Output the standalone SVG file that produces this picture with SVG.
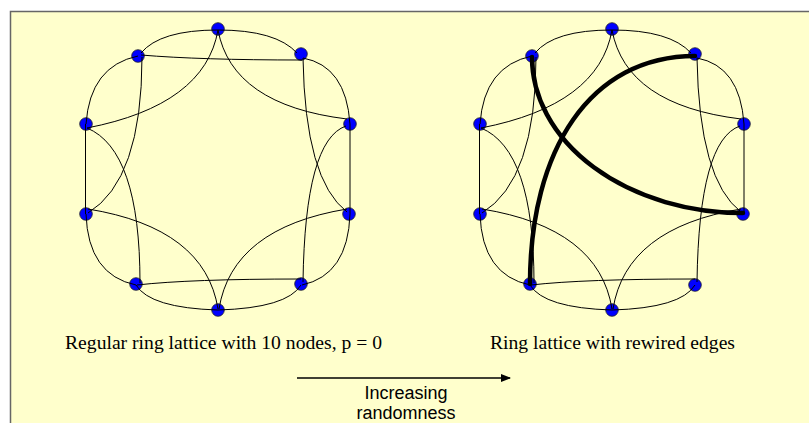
<svg xmlns="http://www.w3.org/2000/svg" width="809" height="423" viewBox="0 0 809 423">
<style>
.bg{fill:#FFFFCC;stroke:#666666;stroke-width:1.5}
.node{fill:#0000FF;stroke:#222222;stroke-width:0.8}
.e{fill:none;stroke:#000000;stroke-width:1}
.thick{fill:none;stroke:#000000;stroke-width:4.5;stroke-linecap:round}
.serif{font-family:"Liberation Serif","Times New Roman",serif;font-size:18px;fill:#000000}
.sans{font-family:"Liberation Sans",Arial,sans-serif;font-size:18px;fill:#000000;text-anchor:middle}
</style>
<defs>
<marker id="ah" markerWidth="10" markerHeight="8" refX="9" refY="4" orient="auto" markerUnits="userSpaceOnUse">
<path d="M0,0 L10,4 L0,8 Z" fill="#000000"/>
</marker>
</defs>
<rect x="10.5" y="11.5" width="810" height="420" class="bg"/>

<g id="nodes-left">
<g id="L-T"><circle class="node" cx="218" cy="29" r="6.3"/></g>
<g id="L-TR"><circle class="node" cx="301" cy="54" r="6.3"/></g>
<g id="L-RU"><circle class="node" cx="350" cy="124" r="6.3"/></g>
<g id="L-RL"><circle class="node" cx="349" cy="214" r="6.3"/></g>
<g id="L-BR"><circle class="node" cx="301" cy="284" r="6.3"/></g>
<g id="L-B"><circle class="node" cx="218" cy="310" r="6.3"/></g>
<g id="L-BL"><circle class="node" cx="136" cy="284" r="6.3"/></g>
<g id="L-LL"><circle class="node" cx="86" cy="214" r="6.3"/></g>
<g id="L-LU"><circle class="node" cx="86" cy="124" r="6.3"/></g>
<g id="L-TL"><circle class="node" cx="138" cy="56" r="6.3"/></g>
</g>

<g id="nodes-right" transform="translate(394,0)">
<g id="R-T"><circle class="node" cx="218" cy="29" r="6.3"/></g>
<g id="R-TR"><circle class="node" cx="301" cy="54" r="6.3"/></g>
<g id="R-RU"><circle class="node" cx="350" cy="124" r="6.3"/></g>
<g id="R-RL"><circle class="node" cx="349" cy="214" r="6.3"/></g>
<g id="R-BR"><circle class="node" cx="301" cy="285" r="6.3"/></g>
<g id="R-B"><circle class="node" cx="218" cy="310" r="6.3"/></g>
<g id="R-BL"><circle class="node" cx="136" cy="284" r="6.3"/></g>
<g id="R-LL"><circle class="node" cx="86" cy="214" r="6.3"/></g>
<g id="R-LU"><circle class="node" cx="86" cy="124" r="6.3"/></g>
<g id="R-TL"><circle class="node" cx="138" cy="56" r="6.3"/></g>
</g>

<g id="connectors">
<g id="edges-left">
<path class="e" d="M218,30 Q160,30 141,53"/>
<path class="e" d="M138,56 Q90,66 86,124"/>
<path class="e" d="M85.5,124 L85.5,214"/>
<path class="e" d="M86,214 Q88,275 136,285"/>
<path class="e" d="M136,285 Q150,308 218,310"/>
<path class="e" d="M218,30 Q205,105 87,128"/>
<path class="e" d="M218,30 Q232,105 347,119"/>
<path class="e" d="M142,57 Q142,180 88,213"/>
<path class="e" d="M87,128 Q140,150 140,283"/>
<path class="e" d="M303,58 Q305,180 347,212"/>
<path class="e" d="M346,126 Q305,140 303,282"/>
<path class="e" d="M88,209 Q205,228 218,309"/>
<path class="e" d="M347,209 Q232,228 219,309"/>
<path class="e" d="M141,55 Q200,60 302,60"/>
<path class="e" d="M137,285 Q190,279 301,279"/>
<path class="e" d="M218,30 Q276,30 297,53"/>
<path class="e" d="M303,58 Q346,66 350,124"/>
<path class="e" d="M350,124 L350,214"/>
<path class="e" d="M350,214 Q348,275 302,285"/>
<path class="e" d="M301,285 Q287,308 218,310"/>
</g>
<g id="edges-right" transform="translate(394,0)">
<path class="e" d="M218,30 Q160,30 141,53"/>
<path class="e" d="M138,56 Q90,66 86,124"/>
<path class="e" d="M85.5,124 L85.5,214"/>
<path class="e" d="M86,214 Q88,275 136,285"/>
<path class="e" d="M136,285 Q150,308 218,310"/>
<path class="e" d="M218,30 Q205,105 87,128"/>
<path class="e" d="M218,30 Q232,105 347,119"/>
<path class="e" d="M142,57 Q142,180 88,213"/>
<path class="e" d="M87,128 Q140,150 140,283"/>
<path class="e" d="M303,58 Q305,180 347,212"/>
<path class="e" d="M346,126 Q305,140 303,282"/>
<path class="e" d="M88,209 Q205,228 218,309"/>
<path class="e" d="M347,209 Q232,228 219,309"/>
<path class="e" d="M137,285 Q190,279 301,279"/>
<path class="e" d="M218,30 Q276,30 297,53"/>
<path class="e" d="M303,58 Q346,66 350,124"/>
<path class="e" d="M350,124 L350,214"/>
<path class="e" d="M301,285 Q287,308 218,310"/>
<path class="thick" d="M138,57 A211,156 0 0 0 349,213"/>
<path class="thick" d="M136,284 C136,150 196,56 301,56"/>
</g>
<g id="arrow">
<line x1="297" y1="378" x2="510" y2="378" stroke="#000000" stroke-width="1.3" marker-end="url(#ah)"/>
</g>
</g>

<text class="serif" x="65" y="349" textLength="317" lengthAdjust="spacingAndGlyphs">Regular ring lattice with 10 nodes, p = 0</text>
<text class="serif" x="490" y="349" textLength="245" lengthAdjust="spacingAndGlyphs">Ring lattice with rewired edges</text>
<text class="sans" x="406" y="399">Increasing</text>
<text class="sans" x="406" y="419">randomness</text>
</svg>
